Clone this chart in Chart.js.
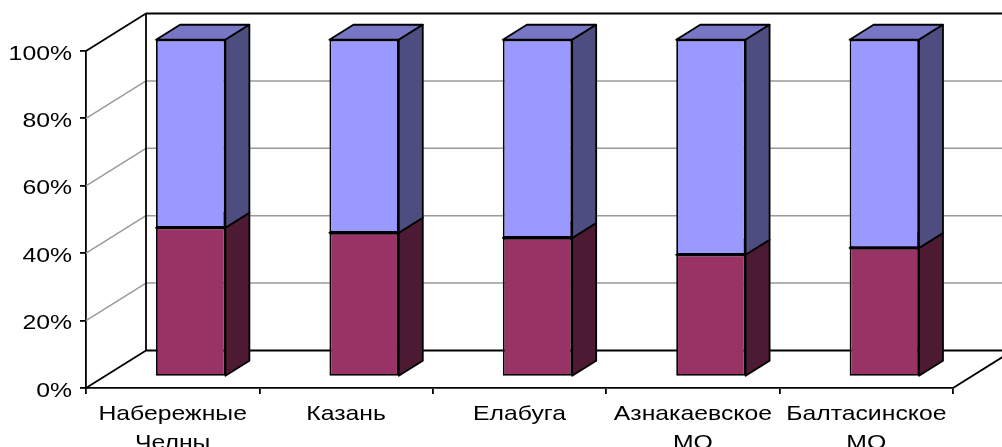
<!DOCTYPE html>
<html>
<head>
<meta charset="utf-8">
<script src="https://cdn.jsdelivr.net/npm/chart.js@4/dist/chart.umd.min.js"></script>
<style>
  html, body { margin: 0; padding: 0; background: #fff; }
  canvas { display: block; }
</style>
</head>
<body>
<canvas id="chart" width="1002" height="447"></canvas>
<script>
// Categories (each entry is the list of label lines)
const categories = [
  ['Набережные', 'Челны'],
  ['Казань'],
  ['Елабуга'],
  ['Азнакаевское', 'МО'],
  ['Балтасинское', 'МО']
];

// Shares, percent of the column total
const seriesLower = [44.2, 42.7, 41.2, 36.2, 38.2];
const seriesUpper = [55.8, 57.3, 58.8, 63.8, 61.8];

// Value axis ticks
const yTicks = [0, 20, 40, 60, 80, 100];
const yTickLabels = ['0%', '20%', '40%', '60%', '80%', '100%'];

// ---- look of the 3D box ----
const DEPTH = { x: 60, y: -37.5 };      // floor depth projected on screen
const BAR_FRONT = 0.3;                   // bar front plane, fraction of depth
const BAR_BACK = 0.7;                    // bar back plane, fraction of depth
const FONT = '21px "Liberation Sans", Arial, sans-serif';
const TEXT_STRETCH = 1.18;
const EDGE = '#000000';
const EDGE_W = 1.8;
const GRID = '#9a9a9a';

const frontColors = ['#993366', '#9999FF'];
const sideColors  = ['#4D1A33', '#4D4D80'];
const topColors   = ['#732650', '#7777C6'];

function line(ctx, pts, color, width) {
  ctx.beginPath();
  ctx.moveTo(pts[0][0], pts[0][1]);
  for (let i = 1; i < pts.length; i++) ctx.lineTo(pts[i][0], pts[i][1]);
  ctx.strokeStyle = color;
  ctx.lineWidth = width;
  ctx.stroke();
}

function poly(ctx, pts, fill) {
  ctx.beginPath();
  ctx.moveTo(pts[0][0], pts[0][1]);
  for (let i = 1; i < pts.length; i++) ctx.lineTo(pts[i][0], pts[i][1]);
  ctx.closePath();
  ctx.fillStyle = fill;
  ctx.fill();
  ctx.strokeStyle = EDGE;
  ctx.lineWidth = EDGE_W;
  ctx.stroke();
}

const box3d = {
  id: 'box3d',
  beforeDatasetsDraw(chart) {
    const { ctx, chartArea: a, scales: { y } } = chart;
    const dx = DEPTH.x, dy = DEPTH.y;
    ctx.save();
    ctx.lineCap = 'butt';
    ctx.lineJoin = 'round';

    // grid lines on the side wall and back wall
    yTicks.forEach(v => {
      if (v === 0 || v === 100) return;
      const py = y.getPixelForValue(v);
      line(ctx, [[a.left, py], [a.left + dx, py + dy], [a.right + dx, py + dy]], GRID, 1.5);
    });

    // wall and floor edges
    const top = y.getPixelForValue(100), bot = y.getPixelForValue(0);
    line(ctx, [[a.left, top], [a.left + dx, top + dy], [a.right + dx, top + dy]], EDGE, EDGE_W);
    line(ctx, [[a.left + dx, top + dy], [a.left + dx, bot + dy]], EDGE, EDGE_W);
    line(ctx, [[a.left, bot], [a.left + dx, bot + dy], [a.right + dx, bot + dy]], EDGE, EDGE_W);
    line(ctx, [[a.right, bot], [a.right + dx, bot + dy]], EDGE, EDGE_W);

    // side and top faces of each column segment
    const fx = DEPTH.x * BAR_FRONT, fy = DEPTH.y * BAR_FRONT;
    const bx = DEPTH.x * BAR_BACK,  by = DEPTH.y * BAR_BACK;
    chart.data.datasets.forEach((ds, d) => {
      const meta = chart.getDatasetMeta(d);
      meta.data.forEach(el => {
        const p = el.getProps(['x', 'y', 'base', 'width'], true);
        const L = p.x - p.width / 2, R = p.x + p.width / 2;
        const t = Math.min(p.y, p.base), b = Math.max(p.y, p.base);
        poly(ctx, [[L + fx, t + fy], [R + fx, t + fy], [R + bx, t + by], [L + bx, t + by]], topColors[d]);
        poly(ctx, [[R + fx, t + fy], [R + bx, t + by], [R + bx, b + by], [R + fx, b + fy]], sideColors[d]);
      });
    });
    ctx.restore();

    // front faces are drawn by the bar controller, pushed into the box
    ctx.save();
    ctx.translate(fx, fy);
  },
  afterDatasetsDraw(chart) {
    chart.ctx.restore();
  },
  afterDraw(chart) {
    const { ctx, chartArea: a, scales: { x, y } } = chart;
    ctx.save();
    ctx.font = FONT;
    ctx.fillStyle = '#000';
    ctx.textBaseline = 'alphabetic';

    // value axis labels
    ctx.textAlign = 'right';
    yTicks.forEach((v, i) => {
      ctx.save();
      ctx.translate(a.left - 14, y.getPixelForValue(v) + 8.5);
      ctx.scale(TEXT_STRETCH, 1);
      ctx.fillText(yTickLabels[i], 0, 0);
      ctx.restore();
    });

    // category labels
    ctx.textAlign = 'center';
    categories.forEach((lines, i) => {
      const cx = x.getPixelForValue(i);
      lines.forEach((txt, j) => {
        ctx.save();
        ctx.translate(cx, a.bottom + 32 + j * 29);
        ctx.scale(TEXT_STRETCH, 1);
        ctx.fillText(txt, 0, 0);
        ctx.restore();
      });
    });
    ctx.restore();
  }
};

new Chart(document.getElementById('chart'), {
  type: 'bar',
  data: {
    labels: categories,
    datasets: [
      { label: 'Ряд1', data: seriesLower, backgroundColor: frontColors[0] },
      { label: 'Ряд2', data: seriesUpper, backgroundColor: frontColors[1] }
    ].map(ds => Object.assign(ds, {
      borderColor: EDGE,
      borderWidth: EDGE_W,
      borderSkipped: false,
      categoryPercentage: 0.4,
      barPercentage: 1,
      clip: false
    }))
  },
  options: {
    responsive: false,
    devicePixelRatio: 1,
    animation: false,
    events: [],
    layout: { padding: { left: 0, top: 51, right: 49, bottom: 0 } },
    plugins: { legend: { display: false }, tooltip: { enabled: false } },
    scales: {
      x: {
        stacked: true,
        offset: true,
        grid: { offset: true, drawOnChartArea: false, drawTicks: true, tickLength: 6, color: EDGE, lineWidth: EDGE_W },
        border: { display: true, color: EDGE, width: EDGE_W },
        ticks: { display: false },
        afterFit(s) { s.height = 59; }
      },
      y: {
        stacked: true,
        min: 0,
        max: 100,
        ticks: { display: false, stepSize: 20 },
        grid: { drawOnChartArea: false, drawTicks: true, tickLength: 6, color: EDGE, lineWidth: EDGE_W },
        border: { display: true, color: EDGE, width: EDGE_W },
        afterFit(s) { s.width = 86; }
      }
    }
  },
  plugins: [box3d]
});
</script>
</body>
</html>
